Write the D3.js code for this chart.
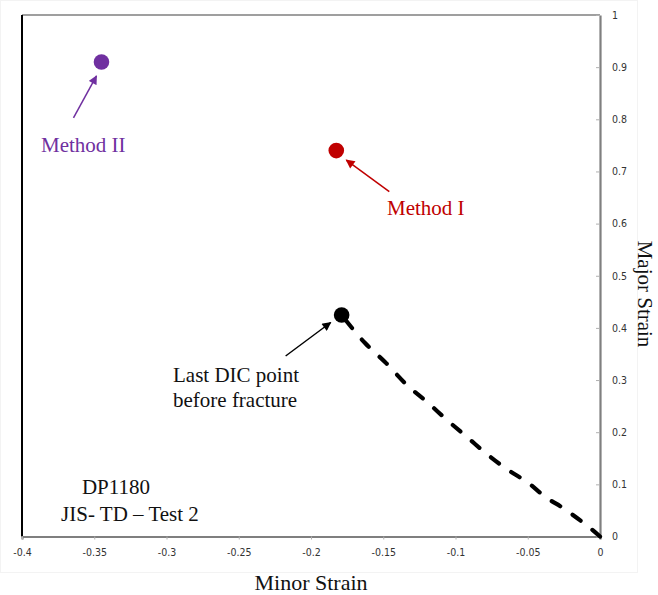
<!DOCTYPE html>
<html>
<head>
<meta charset="utf-8">
<script src="https://cdn.jsdelivr.net/npm/d3@7/dist/d3.min.js"></script>
<style>
  html, body { margin: 0; padding: 0; background: #fff; }
  svg { display: block; }
  .tick-label { font-family: "Liberation Sans Narrow", "DejaVu Sans Condensed", "Arial Narrow", sans-serif; font-size: 10.5px; fill: #333; }
  .serif { font-family: "Liberation Serif", "Times New Roman", serif; }
</style>
</head>
<body>
<svg id="chart" width="658" height="595"></svg>
<script>
// Forming limit path (minor vs major strain) up to the last DIC frame
const pathMinor = [0, -0.0069, -0.0159, -0.0256, -0.0367, -0.0505, -0.0637, -0.0775, -0.0913, -0.1059, -0.1197, -0.1336, -0.1488, -0.1626, -0.1788];
const pathMajor = [0, 0.0163, 0.0355, 0.0547, 0.0738, 0.1045, 0.1277, 0.1563, 0.1889, 0.2234, 0.2579, 0.2905, 0.3346, 0.371, 0.4247];

// Fracture strain estimates
const pointNames = ["Method II", "Method I", "Last DIC point"];
const pointMinor = [-0.345, -0.1825, -0.1788];
const pointMajor = [0.910, 0.740, 0.4247];
const pointColors = ["#7030A0", "#C00000", "#000000"];

const xTicks = [-0.4, -0.35, -0.3, -0.25, -0.2, -0.15, -0.1, -0.05, 0];
const xTickLabels = ["-0.4", "-0.35", "-0.3", "-0.25", "-0.2", "-0.15", "-0.1", "-0.05", "0"];
const yTicks = [0, 0.1, 0.2, 0.3, 0.4, 0.5, 0.6, 0.7, 0.8, 0.9, 1];
const yTickLabels = ["0", "0.1", "0.2", "0.3", "0.4", "0.5", "0.6", "0.7", "0.8", "0.9", "1"];

const svg = d3.select("#chart");
const x = d3.scaleLinear().domain([-0.4, 0]).range([22, 600]);
const y = d3.scaleLinear().domain([0, 1]).range([536.5, 15]);

// faint chart-area border
svg.append("rect").attr("x", 0.5).attr("y", 0.5).attr("width", 637).attr("height", 572)
  .attr("fill", "none").attr("stroke", "#f3f3f3");

// plot frame: top and left borders
svg.append("line").attr("x1", x(-0.4)).attr("x2", x(0)).attr("y1", y(1)).attr("y2", y(1))
  .attr("stroke", "#7f7f7f").attr("stroke-width", 1.6);
svg.append("line").attr("x1", x(-0.4)).attr("x2", x(-0.4)).attr("y1", y(1)).attr("y2", y(0))
  .attr("stroke", "#000").attr("stroke-width", 2);

// x axis (bottom), ticks outward
const xAxis = d3.axisBottom(x).tickValues(xTicks).tickSize(3).tickPadding(9)
  .tickFormat((d, i) => xTickLabels[i]);
const gx = svg.append("g").attr("transform", `translate(0,${y(0)})`).call(xAxis);
gx.select(".domain").attr("stroke", "#7f7f7f").attr("stroke-width", 2.2);
gx.selectAll(".tick line").attr("stroke", "#b0b0b0");
gx.selectAll(".tick text").attr("class", "tick-label").attr("fill", "#333");

// y axis on the right at x = 0, ticks pointing into the plot, labels outside
const yAxis = d3.axisRight(y).tickValues(yTicks).tickSize(0).tickPadding(12)
  .tickFormat((d, i) => yTickLabels[i]);
const gy = svg.append("g").attr("transform", `translate(${x(0)},0)`).call(yAxis);
gy.select(".domain").attr("stroke", "#7f7f7f").attr("stroke-width", 2.2);
gy.selectAll(".tick").append("line").attr("x1", -4).attr("x2", 0).attr("stroke", "#b0b0b0");
gy.selectAll(".tick text").attr("class", "tick-label").attr("fill", "#333");

// axis titles
svg.append("text").attr("class", "serif").attr("x", 311).attr("y", 590)
  .attr("text-anchor", "middle").attr("font-size", 22).attr("fill", "#111").text("Minor Strain");
svg.append("text").attr("class", "serif")
  .attr("transform", "translate(638,294) rotate(90)")
  .attr("text-anchor", "middle").attr("font-size", 21).attr("fill", "#111").text("Major Strain");

// strain path, dashed
const pathData = pathMinor.map((m, i) => [m, pathMajor[i]]);
svg.append("path").datum(pathData)
  .attr("d", d3.line().x(d => x(d[0])).y(d => y(d[1])).curve(d3.curveMonotoneX))
  .attr("fill", "none").attr("stroke", "#000").attr("stroke-width", 4.2)
  .attr("stroke-linecap", "round").attr("stroke-dasharray", "10,15");

// arrowheads
const defs = svg.append("defs");
pointColors.forEach((c, i) => {
  defs.append("marker").attr("id", "arr" + i)
    .attr("viewBox", "0 0 10 10").attr("refX", 9).attr("refY", 5)
    .attr("markerWidth", 10).attr("markerHeight", 9).attr("markerUnits", "userSpaceOnUse")
    .attr("orient", "auto")
    .append("path").attr("d", "M0,0 L10,5 L0,10 Z").attr("fill", c);
});

// annotation arrows: offsets of tail and tip from each point
const arrowTail = [[-28, 56], [53, 41], [-56, 41]];
const arrowTip = [[-5, 14], [10, 9.5], [-11, 7.5]];
pointNames.forEach((n, i) => {
  const px = x(pointMinor[i]), py = y(pointMajor[i]);
  svg.append("line")
    .attr("x1", px + arrowTail[i][0]).attr("y1", py + arrowTail[i][1])
    .attr("x2", px + arrowTip[i][0]).attr("y2", py + arrowTip[i][1])
    .attr("stroke", pointColors[i]).attr("stroke-width", 1.5)
    .attr("marker-end", `url(#arr${i})`);
});

// points
svg.selectAll("circle.pt").data(pointNames).enter().append("circle")
  .attr("class", "pt")
  .attr("cx", (d, i) => x(pointMinor[i])).attr("cy", (d, i) => y(pointMajor[i]))
  .attr("r", 7.8).attr("fill", (d, i) => pointColors[i]);

// labels
const fs = 21;
svg.append("text").attr("class", "serif").attr("x", 41).attr("y", 152)
  .attr("font-size", fs).attr("fill", "#7030A0").text("Method II");
svg.append("text").attr("class", "serif").attr("x", 387).attr("y", 215)
  .attr("font-size", fs).attr("fill", "#C00000").text("Method I");
svg.append("text").attr("class", "serif").attr("x", 173).attr("y", 382)
  .attr("font-size", fs).attr("fill", "#111").text("Last DIC point");
svg.append("text").attr("class", "serif").attr("x", 173).attr("y", 407)
  .attr("font-size", fs).attr("fill", "#111").text("before fracture");
svg.append("text").attr("class", "serif").attr("x", 116).attr("y", 494)
  .attr("text-anchor", "middle").attr("font-size", fs).attr("fill", "#111").text("DP1180");
svg.append("text").attr("class", "serif").attr("x", 130).attr("y", 521)
  .attr("text-anchor", "middle").attr("font-size", fs).attr("fill", "#111").text("JIS- TD \u2013 Test 2");
</script>
</body>
</html>
